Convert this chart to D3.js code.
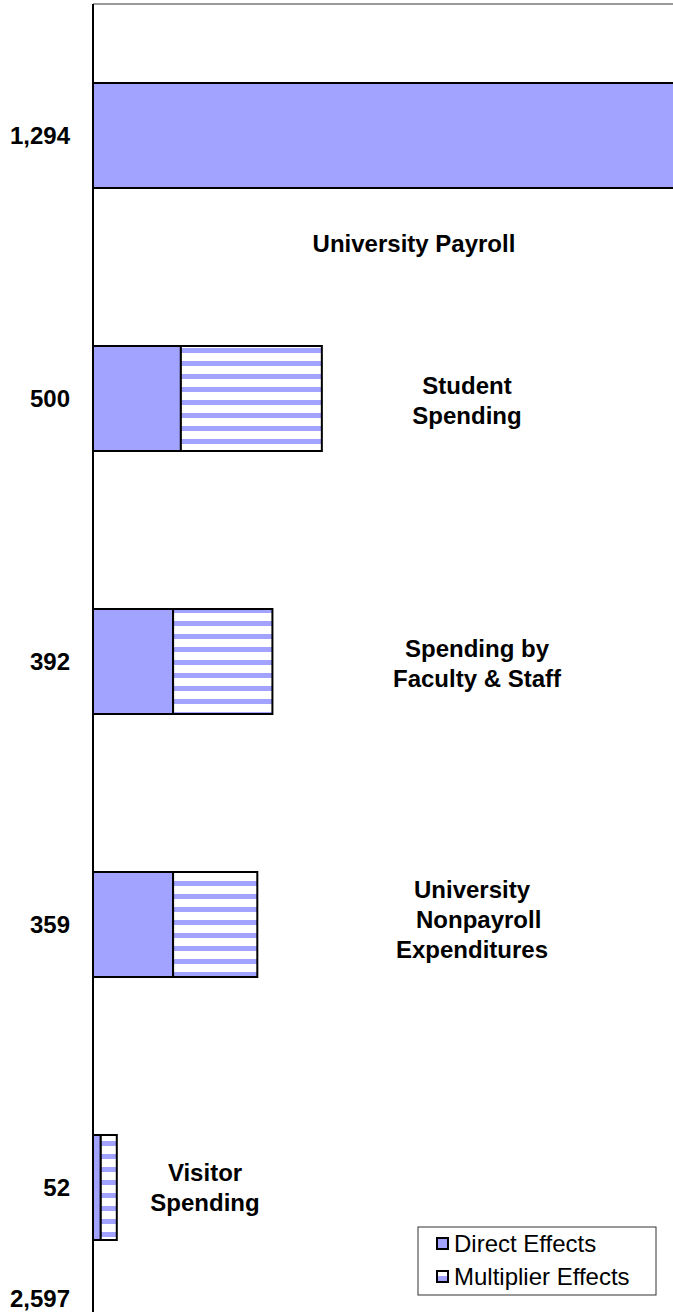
<!DOCTYPE html>
<html>
<head>
<meta charset="utf-8">
<script src="https://cdn.jsdelivr.net/npm/d3@7"></script>
<style>
  body { margin: 0; background: #fff; }
  svg { display: block; font-family: Arial, "Liberation Sans", sans-serif; }
</style>
</head>
<body>
<div id="chart"></div>
<script>
// Economic impact by source (values in $ millions)
const categories = ['University Payroll', 'Student Spending', 'Spending by Faculty & Staff',
  'University Nonpayroll Expenditures', 'Visitor Spending'];
const labelLines = [
  ['University Payroll'],
  ['Student', 'Spending'],
  ['Spending by', 'Faculty & Staff'],
  ['University', '  Nonpayroll', 'Expenditures'],
  ['Visitor', 'Spending'],
];
const directEffects = [1294, 192, 175, 175, 17];
const multiplierEffects = [0, 308, 217, 184, 35];
const seriesNames = ['Direct Effects', 'Multiplier Effects'];

// label placement (centre x in px, y offset from bar centre)
const labelX = [414, 467, 477, 472, 205];
const labelDy = [116, 10, 10, 3, 8];

const width = 673;
const height = 1312;
const axisX = 93;
const plotTop = 4;
const fontSize = 24;

const totals = directEffects.map((d, i) => d + multiplierEffects[i]);
const grandTotal = d3.sum(totals);
const fmt = d3.format(',');

const svg = d3.select('#chart').append('svg')
  .attr('width', width)
  .attr('height', height);

const defs = svg.append('defs');
const stripes = defs.append('pattern')
  .attr('id', 'stripes')
  .attr('patternUnits', 'userSpaceOnUse')
  .attr('width', 8)
  .attr('height', 13)
  .attr('y', 2);
stripes.append('rect').attr('width', 8).attr('height', 13).attr('fill', '#fff');
stripes.append('rect').attr('y', 8).attr('width', 8).attr('height', 5).attr('fill', '#a2a2ff');

const x = d3.scaleLinear()
  .domain([0, 1300])
  .range([axisX, axisX + 595]);

const pad = 158 / 263;
const y = d3.scaleBand()
  .domain(categories)
  .range([plotTop, plotTop + 5 * 263])
  .paddingInner(pad)
  .paddingOuter(pad / 2);

const clip = defs.append('clipPath').attr('id', 'plot-clip');
clip.append('rect').attr('x', axisX).attr('y', plotTop).attr('width', width - axisX).attr('height', height);

// top border of plot area
svg.append('line')
  .attr('x1', axisX).attr('x2', width)
  .attr('y1', plotTop).attr('y2', plotTop)
  .attr('stroke', '#9a9a9a')
  .attr('stroke-width', 2);

const bars = svg.append('g').attr('clip-path', 'url(#plot-clip)');

const rows = categories.map((c, i) => ({
  cat: c, direct: directEffects[i], mult: multiplierEffects[i],
}));

bars.selectAll('rect.direct')
  .data(rows)
  .join('rect')
  .attr('class', 'direct')
  .attr('x', x(0))
  .attr('y', (d) => y(d.cat))
  .attr('width', (d) => x(d.direct) - x(0))
  .attr('height', y.bandwidth())
  .attr('fill', '#a2a2ff')
  .attr('stroke', '#000')
  .attr('stroke-width', 2);

bars.selectAll('rect.mult')
  .data(rows.filter((d) => d.mult > 0))
  .join('rect')
  .attr('class', 'mult')
  .attr('x', (d) => x(d.direct))
  .attr('y', (d) => y(d.cat))
  .attr('width', (d) => x(d.direct + d.mult) - x(d.direct))
  .attr('height', y.bandwidth())
  .attr('fill', 'url(#stripes)')
  .attr('stroke', '#000')
  .attr('stroke-width', 2);

// vertical axis line
svg.append('line')
  .attr('x1', axisX).attr('x2', axisX)
  .attr('y1', plotTop).attr('y2', height)
  .attr('stroke', '#000')
  .attr('stroke-width', 2);

// total values on the left
svg.selectAll('text.total')
  .data(rows)
  .join('text')
  .attr('class', 'total')
  .attr('x', 70)
  .attr('y', (d) => y(d.cat) + y.bandwidth() / 2 + 8)
  .attr('text-anchor', 'end')
  .attr('font-size', fontSize)
  .attr('font-weight', 'bold')
  .text((d, i) => fmt(totals[i]));

svg.append('text')
  .attr('x', 70)
  .attr('y', 1307)
  .attr('text-anchor', 'end')
  .attr('font-size', fontSize)
  .attr('font-weight', 'bold')
  .text(fmt(grandTotal));

// category labels
const lineH = 30;
categories.forEach((c, i) => {
  const lines = labelLines[i];
  const cy = y(c) + y.bandwidth() / 2 + labelDy[i] - ((lines.length - 1) * lineH) / 2;
  const t = svg.append('text')
    .attr('text-anchor', 'middle')
    .attr('font-size', fontSize)
    .attr('font-weight', 'bold')
    .style('white-space', 'pre');
  lines.forEach((ln, j) => {
    t.append('tspan')
      .attr('x', labelX[i])
      .attr('y', cy + j * lineH)
      .text(ln);
  });
});

// legend
const ls = defs.append('linearGradient')
  .attr('id', 'legend-stripe')
  .attr('x1', 0).attr('x2', 0).attr('y1', 0).attr('y2', 1);
ls.append('stop').attr('offset', '50%').attr('stop-color', '#fff');
ls.append('stop').attr('offset', '50%').attr('stop-color', '#a2a2ff');

const legend = svg.append('g').attr('transform', 'translate(418,1227)');
legend.append('rect')
  .attr('width', 238).attr('height', 68)
  .attr('fill', '#fff')
  .attr('stroke', '#333')
  .attr('stroke-width', 1);

const items = legend.selectAll('g.item')
  .data(seriesNames)
  .join('g')
  .attr('class', 'item')
  .attr('transform', (d, i) => `translate(0,${17 + i * 33})`);

items.append('rect')
  .attr('x', 19).attr('y', -6)
  .attr('width', 11).attr('height', 11)
  .attr('fill', (d, i) => (i === 0 ? '#a2a2ff' : 'url(#legend-stripe)'))
  .attr('stroke', '#000')
  .attr('stroke-width', 2);

items.append('text')
  .attr('x', 36)
  .attr('y', 8)
  .attr('font-size', fontSize)
  .text((d) => d);
</script>
</body>
</html>
